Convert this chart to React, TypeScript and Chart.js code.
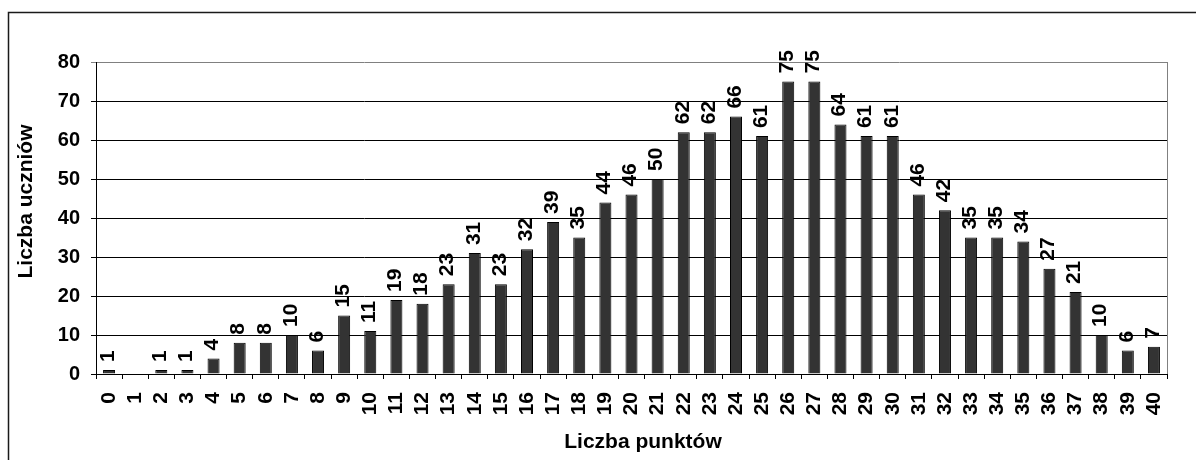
import React, { useEffect, useRef } from "react";
import { Chart, registerables } from "chart.js";

Chart.register(...registerables);

const categories: string[] = [
  "0","1","2","3","4","5","6","7","8","9","10","11","12","13","14","15","16","17","18","19","20",
  "21","22","23","24","25","26","27","28","29","30","31","32","33","34","35","36","37","38","39","40",
];
const counts: number[] = [
  1, 0, 1, 1, 4, 8, 8, 10, 6, 15, 11, 19, 18, 23, 31, 23, 32, 39, 35, 44, 46,
  50, 62, 62, 66, 61, 75, 75, 64, 61, 61, 46, 42, 35, 35, 34, 27, 21, 10, 6, 7,
];
const yTicks: number[] = [0, 10, 20, 30, 40, 50, 60, 70, 80];
const xTitle = "Liczba punktów";
const yTitle = "Liczba uczniów";

const FONT = "'Liberation Sans', Arial, sans-serif";

const decorPlugin = {
  id: "decor",
  beforeDraw(chart: any) {
    const { ctx, width, height } = chart;
    ctx.save();
    ctx.fillStyle = "#ffffff";
    ctx.fillRect(0, 0, width, height);
    ctx.strokeStyle = "#1a1a1a";
    ctx.lineWidth = 1.5;
    ctx.beginPath();
    ctx.moveTo(8.5, height + 2);
    ctx.lineTo(8.5, 12.5);
    ctx.lineTo(width + 2, 12.5);
    ctx.stroke();
    ctx.restore();
  },
  afterDatasetsDraw(chart: any) {
    const { ctx, chartArea } = chart;
    ctx.save();
    // right plot border
    ctx.strokeStyle = "#808080";
    ctx.lineWidth = 1;
    ctx.beginPath();
    ctx.moveTo(Math.round(chartArea.right) + 0.5, Math.round(chartArea.top));
    ctx.lineTo(Math.round(chartArea.right) + 0.5, Math.round(chartArea.bottom));
    ctx.stroke();

    // data labels
    const meta = chart.getDatasetMeta(0);
    ctx.fillStyle = "#000000";
    ctx.font = `bold 21px ${FONT}`;
    ctx.textAlign = "left";
    ctx.textBaseline = "middle";
    meta.data.forEach((bar: any, i: number) => {
      const v = counts[i];
      if (!v) return;
      ctx.save();
      ctx.translate(bar.x - 1, bar.y - 8);
      ctx.rotate(-Math.PI / 2);
      ctx.fillText(String(v), 0, 0);
      ctx.restore();
    });

    // axis titles
    ctx.font = `bold 21px ${FONT}`;
    ctx.textAlign = "center";
    ctx.textBaseline = "middle";
    ctx.fillText(xTitle, 643, 442);
    ctx.save();
    ctx.translate(31.5, 201.5);
    ctx.rotate(-Math.PI / 2);
    ctx.textBaseline = "alphabetic";
    ctx.fillText(yTitle, 0, 0);
    ctx.restore();
    ctx.restore();
  },
};

export default function App() {
  const canvasRef = useRef<HTMLCanvasElement | null>(null);

  useEffect(() => {
    document.body.style.margin = "0";
    const canvas = canvasRef.current;
    if (!canvas) return;
    const chart = new Chart(canvas, {
      type: "bar",
      data: {
        labels: categories,
        datasets: [
          {
            data: counts,
            backgroundColor: "#333333",
            borderColor: "#000000",
            borderWidth: 1,
            barPercentage: 0.46,
            categoryPercentage: 1,
          },
        ],
      },
      options: {
        animation: false,
        responsive: false,
        maintainAspectRatio: false,
        devicePixelRatio: 1,
        layout: { padding: { top: 62, right: 29, left: 0, bottom: 0 } },
        plugins: {
          legend: { display: false },
          tooltip: { enabled: false },
          title: { display: false },
        },
        scales: {
          x: {
            offset: true,
            grid: {
              display: true,
              offset: true,
              drawOnChartArea: false,
              drawTicks: true,
              tickLength: 5,
              color: "#000000",
            },
            border: { display: true, color: "#000000", width: 1 },
            ticks: {
              autoSkip: false,
              minRotation: 90,
              maxRotation: 90,
              padding: 13,
              color: "#000000",
              font: { family: FONT, size: 21, weight: "bold" },
            },
            afterFit(scale: any) {
              scale.height = 86;
            },
          },
          y: {
            min: 0,
            max: 80,
            afterBuildTicks(scale: any) {
              scale.ticks = yTicks.map((v) => ({ value: v }));
            },
            grid: {
              drawTicks: true,
              tickLength: 5,
              color: (c: any) => (c.tick && c.tick.value === 80 ? "#808080" : "#000000"),
            },
            border: { display: true, color: "#000000", width: 1 },
            ticks: {
              stepSize: 10,
              padding: 11,
              color: "#000000",
              font: { family: FONT, size: 20, weight: "bold" },
            },
            afterFit(scale: any) {
              scale.width = 96;
            },
          },
        },
      },
      plugins: [decorPlugin],
    });
    return () => chart.destroy();
  }, []);

  return (
    <div style={{ width: 1196, height: 460, position: "relative" }}>
      <canvas ref={canvasRef} width={1196} height={460} style={{ display: "block", width: 1196, height: 460 }} />
    </div>
  );
}
